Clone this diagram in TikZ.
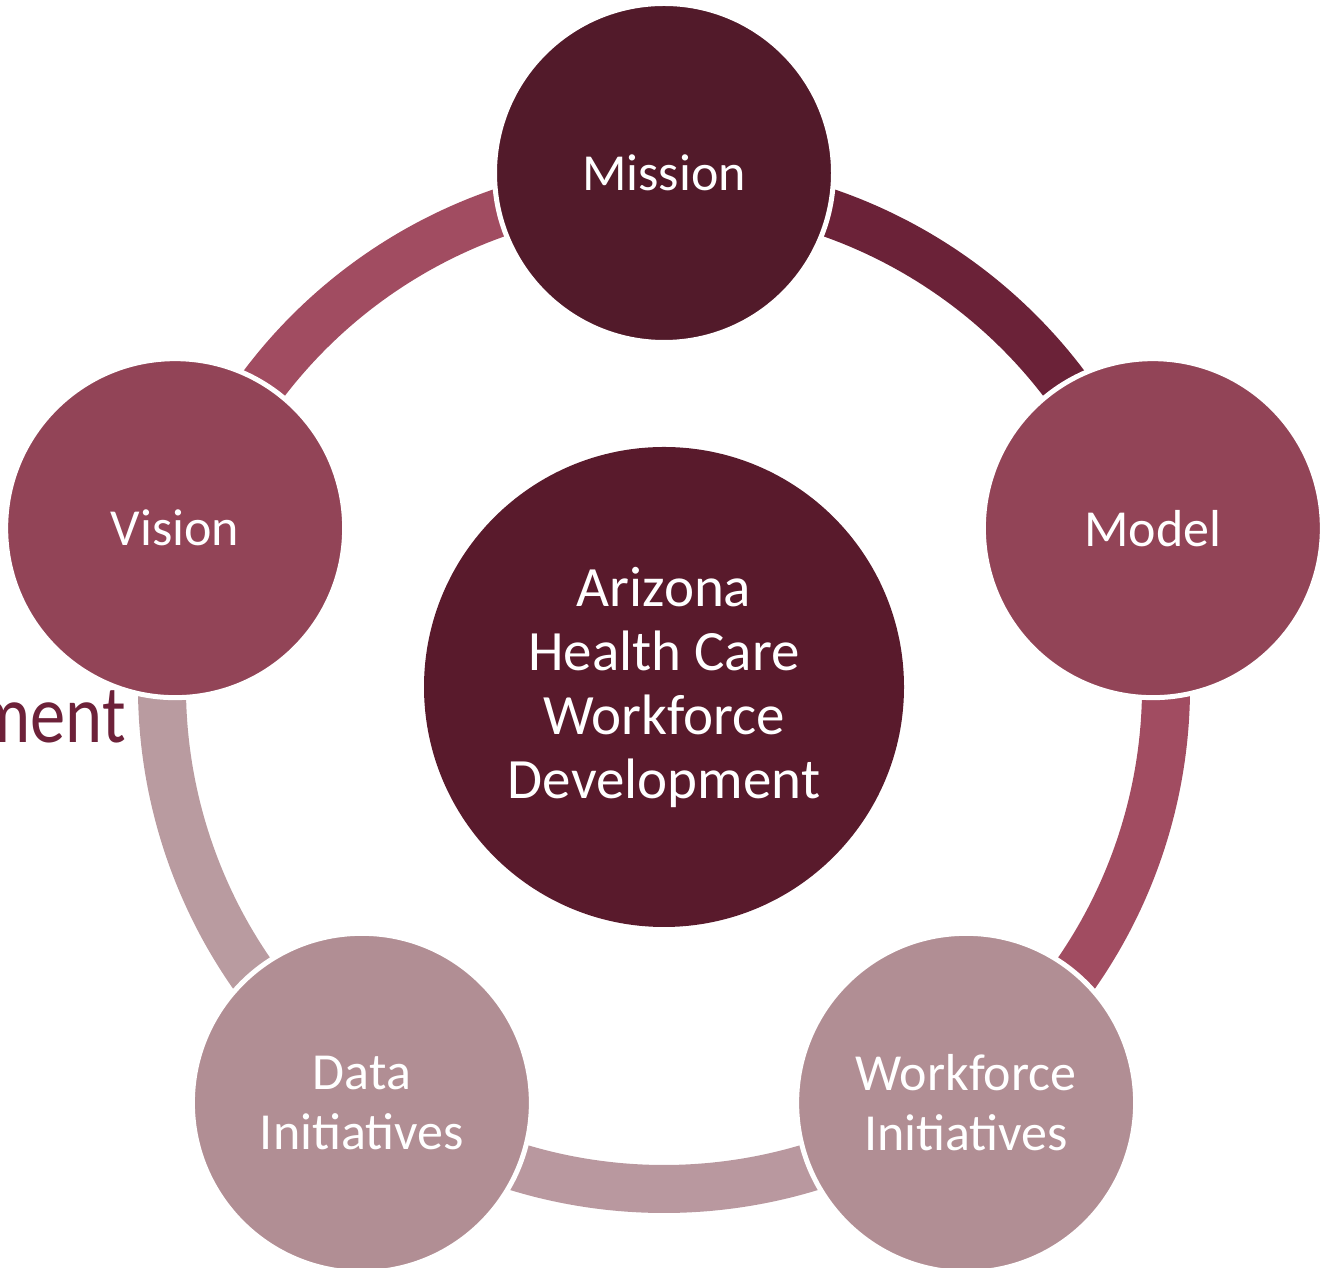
\documentclass[tikz,border=0pt]{standalone}
\usepackage{fontspec}
\setmainfont{Carlito}
\usetikzlibrary{backgrounds}

\definecolor{missionfill}{HTML}{521A2A}
\definecolor{corefill}{HTML}{591A2C}
\definecolor{midfill}{HTML}{924457}
\definecolor{lightfill}{HTML}{B18E94}
\definecolor{arcdark}{HTML}{6B2238}
\definecolor{arcmid}{HTML}{A14C61}
\definecolor{arclight}{HTML}{B9989F}
\definecolor{arcpale}{HTML}{B99BA0}
\definecolor{titlecol}{HTML}{6D2139}

\tikzset{
  petal/.style={circle, minimum size=339pt, inner sep=0pt, draw=white,
    line width=5pt, text=white, align=center,
    font=\fontsize{52}{60}\selectfont},
  hub/.style={circle, minimum size=480pt, inner sep=0pt, text=white,
    align=center, font=\fontsize{57}{64}\selectfont},
  ringarc/.style={line width=48pt, line cap=butt}
}

\begin{document}
\begin{tikzpicture}[x=1pt,y=1pt]
\useasboundingbox (0,0) rectangle (1325,1268);

% tail of the slide title showing behind the cycle
\begin{scope}
  \clip (0,0) rectangle (1325,1268);
  \node[anchor=base east, text=titlecol, inner sep=0pt, xscale=0.86,
        font=\fontsize{82}{88}\selectfont] (title) at (126,525) {ment};
\end{scope}

\begin{scope}[shift={(664,581)}]
  \node[hub, fill=corefill] (core) at (0,0)
    {Arizona\\Health Care\\Workforce\\Development};

  \node[petal, fill=missionfill] (mission)   at (90:514)  {Mission};
  \node[petal, fill=midfill]     (model)     at (18:514)  {Model};
  \node[petal, fill=lightfill]   (workforce) at (-54:514) {Workforce\\Initiatives};
  \node[petal, fill=lightfill]   (data)      at (234:514) {Data\\Initiatives};
  \node[petal, fill=midfill]     (vision)    at (162:514) {Vision};

  % ring segments joining neighbouring circles
  \begin{scope}[on background layer]
    \draw[ringarc, arcdark]  (core.center) ++(90:502pt)
      arc[start angle=90,  end angle=18,  radius=502pt];
    \draw[ringarc, arcmid]   (core.center) ++(18:502pt)
      arc[start angle=18,  end angle=-54, radius=502pt];
    \draw[ringarc, arclight] (core.center) ++(-54:502pt)
      arc[start angle=-54, end angle=-126, radius=502pt];
    \draw[ringarc, arcpale]  (core.center) ++(234:502pt)
      arc[start angle=234, end angle=162, radius=502pt];
    \draw[ringarc, arcmid]   (core.center) ++(162:502pt)
      arc[start angle=162, end angle=90,  radius=502pt];
  \end{scope}
\end{scope}
\end{tikzpicture}
\end{document}
